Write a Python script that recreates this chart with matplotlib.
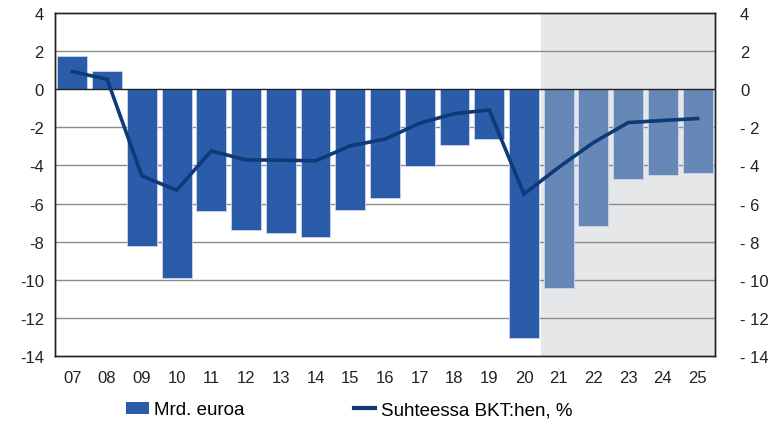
import numpy as np
import matplotlib.pyplot as plt
from matplotlib.patches import Patch
from matplotlib.lines import Line2D

plt.rcParams['font.family'] = ['Liberation Sans', 'DejaVu Sans']

years = ['07', '08', '09', '10', '11', '12', '13', '14', '15', '16',
         '17', '18', '19', '20', '21', '22', '23', '24', '25']
mrd_euroa = [1.72, 0.98, -8.25, -9.93, -6.4, -7.4, -7.55, -7.73, -6.33, -5.72,
             -4.02, -2.94, -2.59, -13.06, -10.44, -7.19, -4.69, -4.5, -4.41]
bkt_pct = [0.93, 0.52, -4.55, -5.3, -3.24, -3.71, -3.72, -3.76, -2.97, -2.62,
           -1.78, -1.28, -1.09, -5.5, -4.1, -2.8, -1.75, -1.64, -1.54]
first_forecast = 14  # index of '21'

c_bar = '#2a5caa'
c_fc = '#6787b7'
c_line = '#0e3a78'

fig = plt.figure(figsize=(7.68, 4.27), dpi=100)
ax = fig.add_axes([55 / 768, 1 - 357 / 427, 660 / 768, 343 / 427])

x = np.arange(len(years))
ax.axvspan(first_forecast - 0.5, len(years) - 0.5, color='#e6e7e9', zorder=0)
for v in [-12, -10, -8, -6, -4, -2, 2]:
    ax.axhline(v, color='#8c8c8c', lw=1.0, zorder=1)

colors = [c_bar if i < first_forecast else c_fc for i in range(len(years))]
ax.bar(x, mrd_euroa, width=0.86, color=colors, edgecolor='#c9d6ea', linewidth=0.6, zorder=2)
ax.axhline(0, color='#222222', lw=1.0, zorder=3)
ax.plot(x, bkt_pct, color=c_line, lw=2.6, zorder=4, solid_joinstyle='miter')

ax.set_xlim(-0.5, len(years) - 0.5)
ax.set_ylim(-14, 4)
ax.set_xticks(x)
ax.set_xticklabels(years)
yt = np.arange(-14, 5, 2)
ax.set_yticks(yt)
ax.set_yticklabels([str(v) for v in yt])
ax.tick_params(axis='both', length=0, labelsize=12, colors='#222222')
ax.tick_params(axis='x', pad=10)
ax.tick_params(axis='y', pad=8)

ax2 = ax.twinx()
ax2.set_ylim(-14, 4)
ax2.set_yticks(yt)
ax2.set_yticklabels([('- ' + str(-v)) if v < 0 else str(v) for v in yt])
ax2.tick_params(axis='y', length=0, labelsize=12, colors='#222222', pad=18)

for a in (ax, ax2):
    for s in a.spines.values():
        s.set_color('#222222')
        s.set_linewidth(1.0)

# legend: two separate entries placed like the original
leg_y = 1 - 411 / 427
leg1 = fig.legend([Patch(facecolor=c_bar, edgecolor='none')], ['Mrd. euroa'],
                  loc='center left', bbox_to_anchor=(126 / 768, leg_y), frameon=False,
                  fontsize=13.5, handlelength=1.25, handleheight=0.55,
                  handletextpad=0.25, borderpad=0, borderaxespad=0)
leg2 = fig.legend([Line2D([0], [0], color=c_line, lw=3)], ['Suhteessa BKT:hen, %'],
                  loc='center left', bbox_to_anchor=(354 / 768, leg_y), frameon=False,
                  fontsize=13.5, handlelength=1.1, handletextpad=0.35,
                  borderpad=0, borderaxespad=0)

fig.savefig('out.png', dpi=100)
